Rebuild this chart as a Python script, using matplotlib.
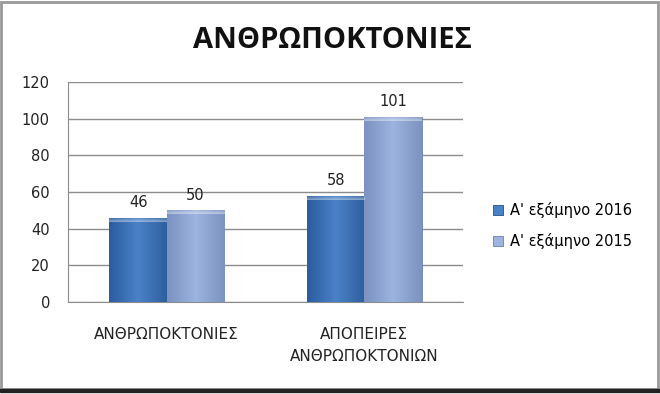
import matplotlib
matplotlib.use('Agg')
import matplotlib.pyplot as plt
import numpy as np
from matplotlib.colors import LinearSegmentedColormap
from matplotlib.patches import Rectangle

plt.rcParams['font.family'] = ['DejaVu Sans']

# Data.
categories = ['ΑΝΘΡΩΠΟΚΤΟΝΙΕΣ', 'ΑΠΟΠΕΙΡΕΣ\nΑΝΘΡΩΠΟΚΤΟΝΙΩΝ']
series_names = ["Α' εξάμηνο 2016", "Α' εξάμηνο 2015"]
values_2016 = [46, 58]
values_2015 = [50, 101]
y_ticks = [0, 20, 40, 60, 80, 100, 120]

# Colours: edge, centre, edge for a horizontal gradient.
dark_cols = ['#2b5c9e', '#4a82c8', '#2f5f9f']
light_cols = ['#7b92c2', '#9db4e0', '#7c92c0']

fig = plt.figure(figsize=(6.6, 3.94), dpi=100)
ax = fig.add_axes([0.103, 0.2335, 0.5985, 0.5585])

x = np.arange(len(categories))
w = 0.29

bars_a = ax.bar(x - w / 2, values_2016, w, color=dark_cols[1],
                edgecolor='#244f88', linewidth=0.6, zorder=3,
                label=series_names[0])
bars_b = ax.bar(x + w / 2, values_2015, w, color=light_cols[1],
                edgecolor='#6a80ad', linewidth=0.6, zorder=3,
                label=series_names[1])

# Fake the shaded Excel bars with a gradient clipped to each bar.
grad = np.linspace(0, 1, 64).reshape(1, -1)
vgrad = np.linspace(0, 1, 32).reshape(-1, 1)
for bars, cols in ((bars_a, dark_cols), (bars_b, light_cols)):
    cmap = LinearSegmentedColormap.from_list('g', cols)
    for b in bars:
        x0, y0 = b.get_x(), b.get_y()
        h = b.get_height()
        im = ax.imshow(grad, cmap=cmap, aspect='auto', zorder=3.5,
                       extent=[x0, x0 + b.get_width(), y0, y0 + h])
        im.set_clip_path(b)
        # soft bevel along the top
        top = ax.imshow(np.ones_like(vgrad), cmap='Greys_r', aspect='auto',
                        alpha=vgrad * 0.45, zorder=3.6, vmin=0, vmax=1,
                        extent=[x0, x0 + b.get_width(), h - 2.2, h])
        top.set_clip_path(b)
        ax.text(x0 + b.get_width() / 2, h + 4, str(int(h)),
                ha='center', va='bottom', fontsize=10.5, color='#222222',
                zorder=4)

ax.set_xlim(-0.5, 1.5)
ax.set_ylim(0, 120)
ax.set_yticks(y_ticks)
ax.set_xticks(x)
ax.set_xticklabels(categories, fontsize=11, multialignment='center',
                   linespacing=1.55, color='#222222')
ax.tick_params(axis='y', labelsize=10.5, length=0, pad=13, colors='#222222')
ax.tick_params(axis='x', length=0, pad=18)
ax.yaxis.grid(True, color='#8c8c8c', linewidth=1.0, zorder=0)
ax.set_axisbelow(True)
for s in ('top', 'right'):
    ax.spines[s].set_visible(False)
ax.spines['left'].set_color('#8c8c8c')
ax.spines['bottom'].set_color('#8c8c8c')

fig.text(0.503, 0.878, 'ΑΝΘΡΩΠΟΚΤΟΝΙΕΣ', ha='center', va='baseline',
         fontsize=21, fontweight='bold', color='#111111',
         family=['Open Sans', 'DejaVu Sans'])

leg = fig.legend(handles=[bars_a, bars_b], labels=series_names,
                 loc='center left', bbox_to_anchor=(0.727, 0.427),
                 frameon=False, fontsize=10.5, handlelength=0.7,
                 handleheight=0.7, handletextpad=0.45, labelspacing=1.05)
leg.legend_handles[0].set_facecolor(dark_cols[1])
leg.legend_handles[1].set_facecolor(light_cols[1])

# Picture frame round the whole chart.
fig.patches.append(Rectangle((0.002, 0.012), 0.995, 0.984,
                             transform=fig.transFigure, fill=False,
                             edgecolor='#999999', linewidth=2))
fig.patches.append(Rectangle((0.0, 0.004), 1.0, 0.009,
                             transform=fig.transFigure, color='#222222'))

fig.savefig('out.png', dpi=100)
